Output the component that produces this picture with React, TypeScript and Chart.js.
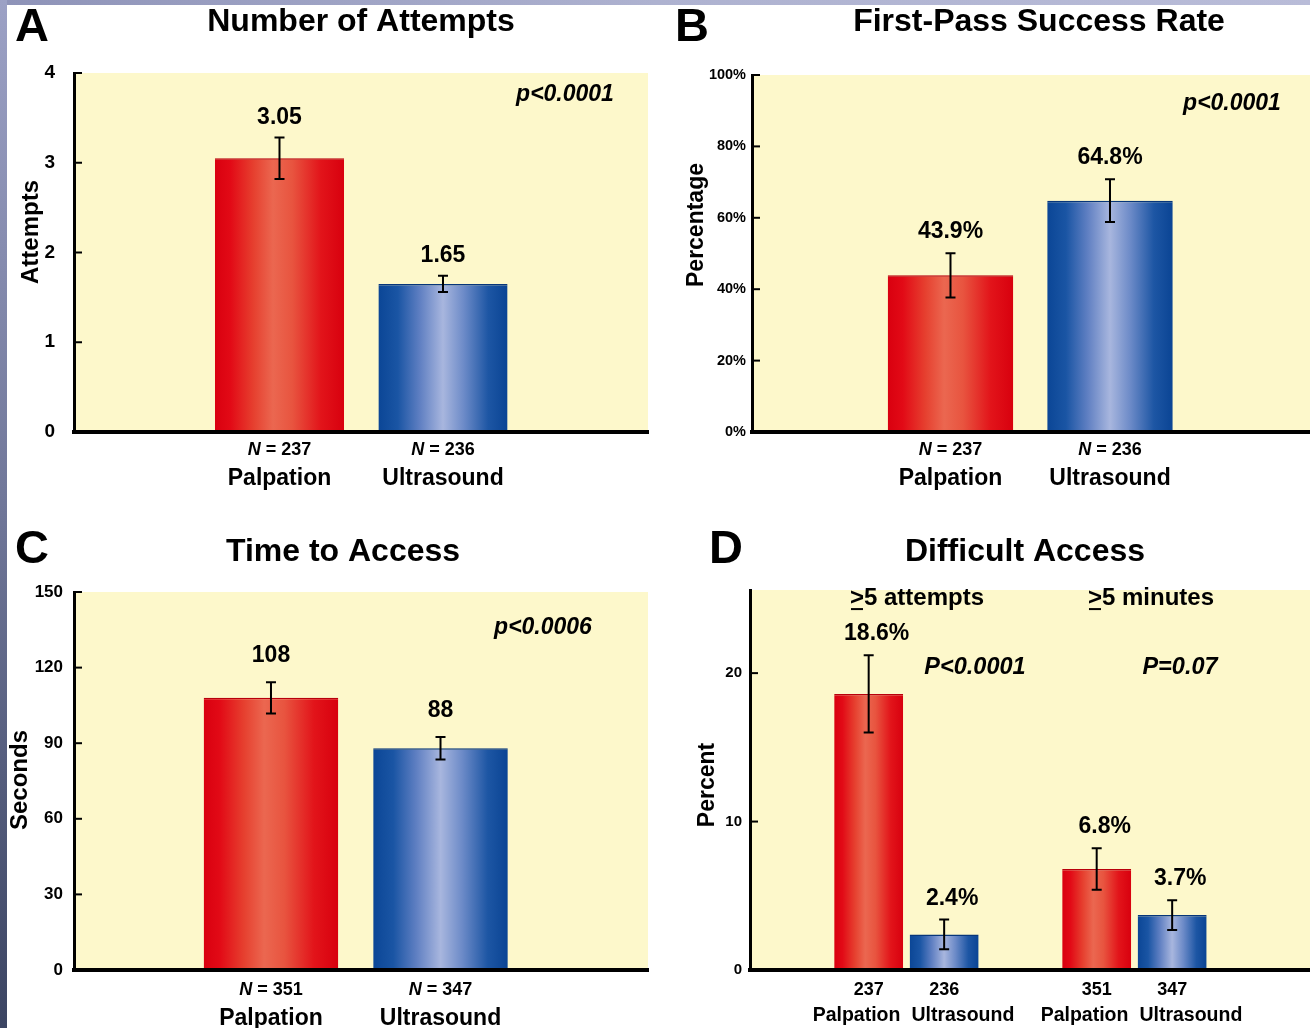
import { useEffect, useRef } from 'react';
import { Chart, registerables } from 'chart.js';

Chart.register(...registerables);

const FONT = "'Liberation Sans', Arial, Helvetica, sans-serif";
const PLOT_BG = '#fdf8cb';

// ---------- Panel A: Number of Attempts ----------
const methods = ['Palpation', 'Ultrasound'];
const attemptsN = ['237', '236'];
const attemptsMean = [3.05, 1.65];
const attemptsErr = [0.23, 0.09];
const attemptsText = ['3.05', '1.65'];
const attemptsTicks = [0, 1, 2, 3, 4];
const attemptsP = 'p<0.0001';

// ---------- Panel B: First-Pass Success Rate ----------
const successN = ['237', '236'];
const successRate = [43.9, 64.8];
const successErr = [6.2, 6.0];
const successText = ['43.9%', '64.8%'];
const successTicks = [0, 20, 40, 60, 80, 100];
const successP = 'p<0.0001';

// ---------- Panel C: Time to Access ----------
const timeN = ['351', '347'];
const timeMean = [108, 88];
const timeErr = [6.2, 4.5];
const timeText = ['108', '88'];
const timeTicks = [0, 30, 60, 90, 120, 150];
const timeP = 'p<0.0006';

// ---------- Panel D: Difficult Access ----------
const difficultGroups = ['≥5 attempts', '≥5 minutes'];
const difficultP = ['P<0.0001', 'P=0.07'];
const palpDifficult = [18.6, 6.8];
const palpDifficultErr = [2.6, 1.4];
const palpDifficultText = ['18.6%', '6.8%'];
const palpDifficultN = ['237', '351'];
const usDifficult = [2.4, 3.7];
const usDifficultErr = [1.0, 1.0];
const usDifficultText = ['2.4%', '3.7%'];
const usDifficultN = ['236', '347'];
const difficultTicks = [0, 10, 20];

const RED_STOPS: [number, string][] = [
  [0, '#d9000f'],
  [0.12, '#e20a16'],
  [0.3, '#e6402f'],
  [0.45, '#eb6750'],
  [0.6, '#e8543f'],
  [0.82, '#e2141a'],
  [1, '#d8000e'],
];
const BLUE_STOPS: [number, string][] = [
  [0, '#0b4696'],
  [0.15, '#1a55a4'],
  [0.32, '#5f7fc2'],
  [0.5, '#a8b6de'],
  [0.66, '#6d8bc8'],
  [0.85, '#1d56a4'],
  [1, '#0a4494'],
];

type Series = {
  xs: number[];
  values: number[];
  errors: number[];
  texts: string[];
  ns: string[];
  names: string[];
  kinds: ('red' | 'blue')[];
};

type Note = { text: string; x: number; y: number; size: number; italic: boolean };

type PanelCfg = {
  box: { left: number; top: number; width: number; height: number };
  area: { left: number; top: number; right: number; bottom: number };
  xMin: number;
  xMax: number;
  xTicks: number[];
  catPct: number;
  barPct: number;
  yMax: number;
  yTicks: number[];
  yFmt: (v: number) => string;
  yTickSize: number;
  yTickPad: number;
  letter: string;
  letterPos: [number, number];
  title: string;
  titlePos: [number, number];
  yTitle: string;
  yTitlePos: [number, number];
  yTitleSize: number;
  series: Series[];
  notes: Note[];
  labelGap: number;
  labelDx: number;
  nY: number;
  nameY: number;
  nSize: number;
  nameSize: number;
  nPrefix: boolean;
  pairedNames: boolean;
};

const panels: PanelCfg[] = [
  {
    box: { left: 0, top: 0, width: 660, height: 515 },
    area: { left: 74, top: 73, right: 648, bottom: 432 },
    xMin: -1.257,
    xMax: 2.254,
    xTicks: [0, 1],
    catPct: 1,
    barPct: 0.79,
    yMax: attemptsTicks[attemptsTicks.length - 1],
    yTicks: attemptsTicks,
    yFmt: (v) => String(v),
    yTickSize: 19,
    yTickPad: 19,
    letter: 'A',
    letterPos: [32, 28],
    title: 'Number of Attempts',
    titlePos: [361, 22],
    yTitle: 'Attempts',
    yTitlePos: [31, 232],
    yTitleSize: 24,
    series: [
      {
        xs: [0, 1],
        values: attemptsMean,
        errors: attemptsErr,
        texts: attemptsText,
        ns: attemptsN,
        names: methods,
        kinds: ['red', 'blue'],
      },
    ],
    notes: [{ text: attemptsP, x: 565, y: 95, size: 23, italic: true }],
    labelGap: 14,
    labelDx: 0,
    nY: 450,
    nameY: 479,
    nSize: 18,
    nameSize: 23,
    nPrefix: true,
    pairedNames: false,
  },
  {
    box: { left: 660, top: 0, width: 650, height: 515 },
    area: { left: 752, top: 75, right: 1310, bottom: 432 },
    xMin: -1.2445,
    xMax: 2.254,
    xTicks: [0, 1],
    catPct: 1,
    barPct: 0.787,
    yMax: successTicks[successTicks.length - 1],
    yTicks: successTicks,
    yFmt: (v) => v + '%',
    yTickSize: 14.5,
    yTickPad: 6,
    letter: 'B',
    letterPos: [692, 28],
    title: 'First-Pass Success Rate',
    titlePos: [1039, 22],
    yTitle: 'Percentage',
    yTitlePos: [697, 225],
    yTitleSize: 23,
    series: [
      {
        xs: [0, 1],
        values: successRate,
        errors: successErr,
        texts: successText,
        ns: successN,
        names: methods,
        kinds: ['red', 'blue'],
      },
    ],
    notes: [{ text: successP, x: 1232, y: 104, size: 23, italic: true }],
    labelGap: 15,
    labelDx: 0,
    nY: 450,
    nameY: 479,
    nSize: 18,
    nameSize: 23,
    nPrefix: true,
    pairedNames: false,
  },
  {
    box: { left: 0, top: 515, width: 660, height: 513 },
    area: { left: 74, top: 592, right: 648, bottom: 970 },
    xMin: -1.162,
    xMax: 2.224,
    xTicks: [0, 1],
    catPct: 1,
    barPct: 0.794,
    yMax: timeTicks[timeTicks.length - 1],
    yTicks: timeTicks,
    yFmt: (v) => String(v),
    yTickSize: 17,
    yTickPad: 11,
    letter: 'C',
    letterPos: [32, 550],
    title: 'Time to Access',
    titlePos: [343, 552],
    yTitle: 'Seconds',
    yTitlePos: [20, 780],
    yTitleSize: 24,
    series: [
      {
        xs: [0, 1],
        values: timeMean,
        errors: timeErr,
        texts: timeText,
        ns: timeN,
        names: methods,
        kinds: ['red', 'blue'],
      },
    ],
    notes: [{ text: timeP, x: 543, y: 628, size: 23, italic: true }],
    labelGap: 20,
    labelDx: 0,
    nY: 990,
    nameY: 1019,
    nSize: 18,
    nameSize: 23,
    nPrefix: true,
    pairedNames: false,
  },
  {
    box: { left: 660, top: 515, width: 650, height: 513 },
    area: { left: 750, top: 590, right: 1310, bottom: 970 },
    xMin: -0.686,
    xMax: 1.77,
    xTicks: [0, 1],
    catPct: 0.662,
    barPct: 0.914,
    yMax: 25.6,
    yTicks: difficultTicks,
    yFmt: (v) => String(v),
    yTickSize: 15,
    yTickPad: 8,
    letter: 'D',
    letterPos: [726, 550],
    title: 'Difficult Access',
    titlePos: [1025, 552],
    yTitle: 'Percent',
    yTitlePos: [708, 785],
    yTitleSize: 23,
    series: [
      {
        xs: [0, 1],
        values: palpDifficult,
        errors: palpDifficultErr,
        texts: palpDifficultText,
        ns: palpDifficultN,
        names: [methods[0], methods[0]],
        kinds: ['red', 'red'],
      },
      {
        xs: [0, 1],
        values: usDifficult,
        errors: usDifficultErr,
        texts: usDifficultText,
        ns: usDifficultN,
        names: [methods[1], methods[1]],
        kinds: ['blue', 'blue'],
      },
    ],
    notes: [
      { text: difficultGroups[0], x: 917, y: 598, size: 24, italic: false },
      { text: difficultGroups[1], x: 1151, y: 598, size: 24, italic: false },
      { text: difficultP[0], x: 975, y: 668, size: 23.5, italic: true },
      { text: difficultP[1], x: 1180, y: 668, size: 23.5, italic: true },
    ],
    labelGap: 15,
    labelDx: 8,
    nY: 990,
    nameY: 1016,
    nSize: 18,
    nameSize: 19.5,
    nPrefix: false,
    pairedNames: true,
  },
];

function font(size: number, italic = false) {
  return `${italic ? 'italic ' : ''}bold ${size}px ${FONT}`;
}

function makeGradient(ctx: CanvasRenderingContext2D, x0: number, x1: number, kind: 'red' | 'blue') {
  const g = ctx.createLinearGradient(x0, 0, x1, 0);
  (kind === 'red' ? RED_STOPS : BLUE_STOPS).forEach(([o, c]) => g.addColorStop(o, c));
  return g;
}

function drawNote(ctx: CanvasRenderingContext2D, n: Note, L: number, T: number) {
  ctx.font = font(n.size, n.italic);
  ctx.textBaseline = 'middle';
  if (n.text.startsWith('≥')) {
    // traditional typeset form: ">" with an underline
    const rest = n.text.slice(1);
    const w1 = ctx.measureText('>').width;
    const w2 = ctx.measureText(rest).width;
    const x0 = n.x - L - (w1 + w2) / 2;
    ctx.textAlign = 'left';
    ctx.fillText('>', x0, n.y - T);
    ctx.fillText(rest, x0 + w1, n.y - T);
    ctx.fillRect(x0 + 1, n.y - T + n.size * 0.42, w1 - 2, 2);
  } else {
    ctx.textAlign = 'center';
    ctx.fillText(n.text, n.x - L, n.y - T);
  }
}

function makeDecor(cfg: PanelCfg) {
  const L = cfg.box.left;
  const T = cfg.box.top;
  return {
    id: 'decor',
    beforeDraw(chart: any) {
      const { ctx, chartArea: a } = chart;
      ctx.save();
      ctx.fillStyle = PLOT_BG;
      ctx.fillRect(a.left, a.top, a.right - a.left, a.bottom - a.top);
      ctx.restore();
    },
    afterDraw(chart: any) {
      const { ctx, chartArea: a, scales } = chart;
      const y = scales.y;
      ctx.save();
      ctx.fillStyle = '#000';
      ctx.strokeStyle = '#000';

      // inner tick marks on the value axis
      ctx.lineWidth = 2;
      y.ticks.forEach((t: any) => {
        const py = y.getPixelForValue(t.value);
        ctx.beginPath();
        ctx.moveTo(a.left, py);
        ctx.lineTo(a.left + 8, py);
        ctx.stroke();
      });

      // error bars, value labels, category labels
      cfg.series.forEach((s, di) => {
        const meta = chart.getDatasetMeta(di);
        meta.data.forEach((el: any, i: number) => {
          const x = el.x;
          const top = y.getPixelForValue(s.values[i] + s.errors[i]);
          const bot = y.getPixelForValue(s.values[i] - s.errors[i]);
          ctx.lineWidth = 2;
          ctx.beginPath();
          ctx.moveTo(x, top);
          ctx.lineTo(x, bot);
          ctx.moveTo(x - 5, top);
          ctx.lineTo(x + 5, top);
          ctx.moveTo(x - 5, bot);
          ctx.lineTo(x + 5, bot);
          ctx.stroke();

          ctx.font = font(23);
          ctx.textAlign = 'center';
          ctx.textBaseline = 'alphabetic';
          ctx.fillText(s.texts[i], x + cfg.labelDx, top - cfg.labelGap);

          ctx.textBaseline = 'middle';
          if (cfg.nPrefix) {
            ctx.font = font(cfg.nSize, true);
            const w1 = ctx.measureText('N').width;
            ctx.font = font(cfg.nSize);
            const rest = ' = ' + s.ns[i];
            const w2 = ctx.measureText(rest).width;
            const x0 = x - (w1 + w2) / 2;
            ctx.textAlign = 'left';
            ctx.font = font(cfg.nSize, true);
            ctx.fillText('N', x0, cfg.nY - T);
            ctx.font = font(cfg.nSize);
            ctx.fillText(rest, x0 + w1, cfg.nY - T);
          } else {
            ctx.font = font(cfg.nSize);
            ctx.textAlign = 'center';
            ctx.fillText(s.ns[i], x, cfg.nY - T);
          }
          ctx.font = font(cfg.nameSize);
          if (cfg.pairedNames) {
            // names of a pair meet in the gap between the two bars
            const xs = chart.scales.x;
            const mid = xs.getPixelForValue(s.xs[i]);
            const leftSide = di < cfg.series.length / 2;
            ctx.textAlign = leftSide ? 'right' : 'left';
            ctx.fillText(s.names[i], leftSide ? mid - 6 : mid + 5, cfg.nameY - T);
          } else {
            ctx.textAlign = 'center';
            ctx.fillText(s.names[i], x, cfg.nameY - T);
          }
        });
      });

      // annotations
      cfg.notes.forEach((n) => drawNote(ctx, n, L, T));

      // panel letter and title
      ctx.textAlign = 'center';
      ctx.textBaseline = 'middle';
      ctx.font = font(47);
      ctx.fillText(cfg.letter, cfg.letterPos[0] - L, cfg.letterPos[1] - T);
      ctx.font = font(32);
      ctx.fillText(cfg.title, cfg.titlePos[0] - L, cfg.titlePos[1] - T);

      // value-axis title
      ctx.save();
      ctx.translate(cfg.yTitlePos[0] - L, cfg.yTitlePos[1] - T);
      ctx.rotate(-Math.PI / 2);
      ctx.font = font(cfg.yTitleSize);
      ctx.fillText(cfg.yTitle, 0, 0);
      ctx.restore();

      ctx.restore();
    },
  };
}

function buildChart(canvas: HTMLCanvasElement, cfg: PanelCfg) {
  const L = cfg.box.left;
  const T = cfg.box.top;
  const padTop = cfg.area.top - T;
  const padRight = L + cfg.box.width - cfg.area.right;
  const yWidth = cfg.area.left - L;
  const xHeight = T + cfg.box.height - cfg.area.bottom;
  const nSets = cfg.series.length;

  const datasets = cfg.series.map((s, di) => ({
    data: s.values.map((v, i) => ({ x: s.xs[i], y: v })),
    backgroundColor: (c: any) => {
      const chart = c.chart;
      const kind = s.kinds[c.dataIndex ?? 0] || 'red';
      const xs = chart.scales && chart.scales.x;
      if (!chart.chartArea || !xs || c.dataIndex == null || !c.raw) {
        return kind === 'red' ? '#e3101a' : '#1a55a4';
      }
      const unit = xs.getPixelForValue(1) - xs.getPixelForValue(0);
      const slot = (unit * cfg.catPct) / nSets;
      const center = xs.getPixelForValue(c.raw.x) + (di - (nSets - 1) / 2) * slot;
      const w = slot * cfg.barPct;
      return makeGradient(chart.ctx, center - w / 2, center + w / 2, kind);
    },
    borderColor: s.kinds.map((k) => (k === 'red' ? '#b8000c' : '#07367a')),
    borderWidth: { top: 1.5, left: 0, right: 0, bottom: 0 },
    borderSkipped: 'bottom' as const,
    categoryPercentage: cfg.catPct,
    barPercentage: cfg.barPct,
  }));

  return new Chart(canvas, {
    type: 'bar',
    data: { datasets },
    options: {
      animation: false,
      responsive: false,
      maintainAspectRatio: false,
      events: [],
      layout: { padding: { top: padTop, right: padRight, bottom: 0, left: 0 } },
      plugins: {
        legend: { display: false },
        tooltip: { enabled: false },
        title: { display: false },
      },
      scales: {
        x: {
          type: 'linear',
          min: cfg.xMin,
          max: cfg.xMax,
          offset: false,
          grid: { display: false, drawTicks: false },
          border: { display: true, width: 4, color: '#000', z: 1 },
          ticks: { display: false },
          afterBuildTicks: (sc: any) => {
            sc.ticks = cfg.xTicks.map((v) => ({ value: v }));
          },
          afterFit: (sc: any) => {
            sc.height = xHeight;
          },
        },
        y: {
          type: 'linear',
          min: 0,
          max: cfg.yMax,
          grid: { display: false, drawTicks: false },
          border: { display: true, width: 3, color: '#000', z: 1 },
          ticks: {
            color: '#000',
            padding: cfg.yTickPad,
            font: { family: FONT, weight: 'bold', size: cfg.yTickSize },
            callback: (v: any) => cfg.yFmt(Number(v)),
          },
          afterBuildTicks: (sc: any) => {
            sc.ticks = cfg.yTicks.map((v) => ({ value: v }));
          },
          afterFit: (sc: any) => {
            sc.width = yWidth;
          },
        },
      },
    } as any,
    plugins: [makeDecor(cfg)],
  });
}

function PanelChart({ cfg }: { cfg: PanelCfg }) {
  const ref = useRef<HTMLCanvasElement>(null);
  useEffect(() => {
    const chart = buildChart(ref.current as HTMLCanvasElement, cfg);
    return () => chart.destroy();
  }, [cfg]);
  return (
    <canvas
      ref={ref}
      width={cfg.box.width}
      height={cfg.box.height}
      style={{
        position: 'absolute',
        left: cfg.box.left,
        top: cfg.box.top,
        width: cfg.box.width,
        height: cfg.box.height,
      }}
    />
  );
}

export default function App() {
  return (
    <div
      style={{
        position: 'absolute',
        left: 0,
        top: 0,
        width: 1310,
        height: 1028,
        background: '#ffffff',
        overflow: 'hidden',
      }}
    >
      {panels.map((p, i) => (
        <PanelChart key={i} cfg={p} />
      ))}
      <div
        style={{
          position: 'absolute',
          left: 0,
          top: 0,
          width: 1310,
          height: 5,
          background: 'linear-gradient(to right, #8e93b8, #aeb2d0 50%, #b9bcd8)',
        }}
      />
      <div
        style={{
          position: 'absolute',
          left: 0,
          top: 0,
          width: 7,
          height: 1028,
          background: 'linear-gradient(to bottom, #9ca1c5, #6f7698 50%, #3b4462)',
        }}
      />
    </div>
  );
}
